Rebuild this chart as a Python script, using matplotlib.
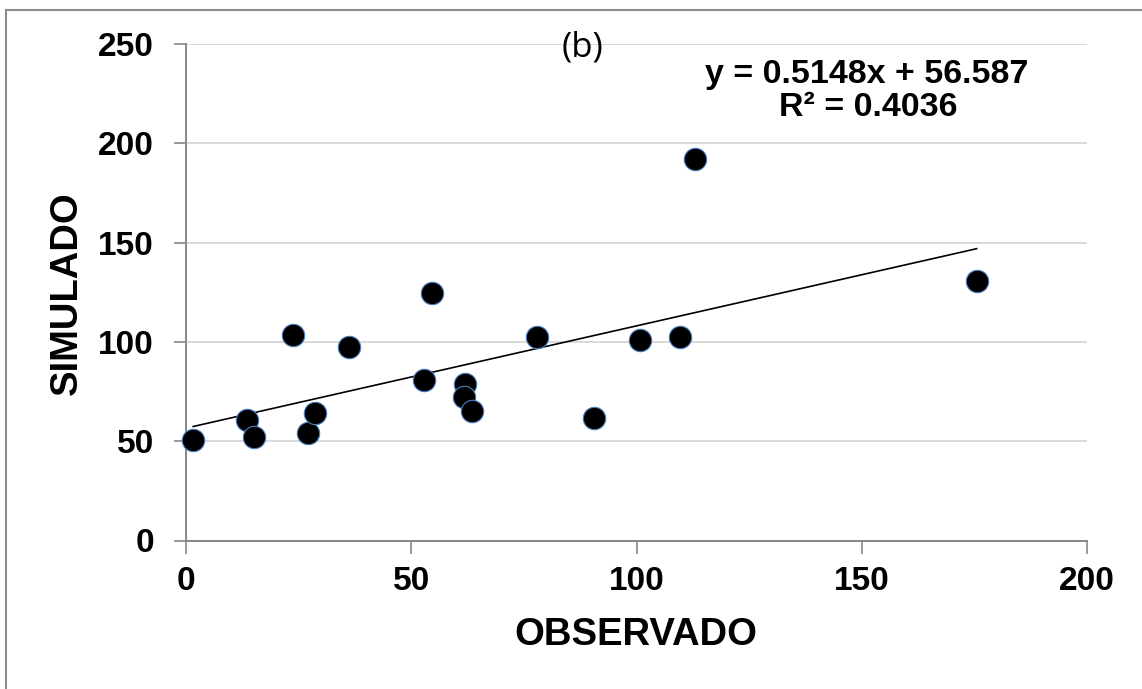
import numpy as np
import matplotlib
matplotlib.use("Agg")
import matplotlib.pyplot as plt
from matplotlib.lines import Line2D

# valores (b)
observado = [1.6, 13.6, 15.0, 23.8, 27.0, 28.7, 36.1, 52.9, 54.6, 62.0,
             61.8, 63.5, 77.9, 90.5, 100.7, 109.6, 113.0, 175.5]
simulado = [50.6, 60.6, 52.1, 103.4, 54.2, 64.1, 97.5, 80.7, 124.8, 78.7,
            72.3, 65.1, 102.5, 61.8, 101.1, 102.5, 191.9, 130.7]
inclinacao = 0.5148
intercepto = 56.587
r2 = 0.4036

x_ticks = [0, 50, 100, 150, 200]
y_ticks = [0, 50, 100, 150, 200, 250]

W, H = 1142, 689
plt.rcParams['font.family'] = ['Liberation Sans', 'DejaVu Sans']

fig = plt.figure(figsize=(W / 100, H / 100), dpi=100)
ax = fig.add_axes([186 / W, 1 - 540.5 / H, (1087 - 186) / W, (540.5 - 44) / H])

cinza = '#878787'
ax.set_xlim(0, 200)
ax.set_ylim(0, 250)
ax.set_xticks(x_ticks)
ax.set_yticks(y_ticks)
ax.yaxis.grid(True, color='#d9d9d9', linewidth=1.4)
ax.set_axisbelow(True)
for s in ['top', 'right']:
    ax.spines[s].set_visible(False)
for s in ['left', 'bottom']:
    ax.spines[s].set_color(cinza)
    ax.spines[s].set_linewidth(1.4)
ax.tick_params(axis='both', direction='out', length=9, width=1.2, color=cinza,
               labelsize=24)
ax.tick_params(axis='y', pad=14)
ax.tick_params(axis='x', pad=9)
for lab in ax.get_xticklabels() + ax.get_yticklabels():
    lab.set_fontweight('bold')

# linha de tendência entre o menor e o maior observado
xs = np.array([min(observado), max(observado)])
ax.plot(xs, inclinacao * xs + intercepto, color='black', linewidth=1.2, zorder=2)

ax.scatter(observado, simulado, s=260, color='black', edgecolors='#4a7fbf',
           linewidths=0.8, zorder=3, clip_on=False)

ax.set_xlabel('OBSERVADO', fontsize=27.5, fontweight='bold', va='center')
ax.set_ylabel('SIMULADO', fontsize=27.5, fontweight='bold', va='center')
ax.xaxis.set_label_coords((636 - 186) / 901, (540.5 - 635) / 496.5)
ax.yaxis.set_label_coords((67 - 186) / 901, (540.5 - 293) / 496.5)

fig.text(582 / W, 1 - 48 / H, '(b)', fontsize=25, family=['Open Sans', 'DejaVu Sans'],
         ha='center', va='center')
fig.text(867 / W, 1 - 75 / H, f'y = {inclinacao}x + {intercepto}', fontsize=24.5,
         fontweight='bold', ha='center', va='center')
fig.text(868 / W, 1 - 108 / H, f'R² = {r2}', fontsize=24.5,
         fontweight='bold', ha='center', va='center')

# moldura cinza (só topo e esquerda visíveis)
fig.add_artist(Line2D([6 / W, 6 / W], [0, 1 - 10 / H], transform=fig.transFigure,
                      color='#8c8c8c', linewidth=1.5))
fig.add_artist(Line2D([6 / W, 1], [1 - 10 / H, 1 - 10 / H], transform=fig.transFigure,
                      color='#8c8c8c', linewidth=1.5))

fig.savefig('out.png', dpi=100)
